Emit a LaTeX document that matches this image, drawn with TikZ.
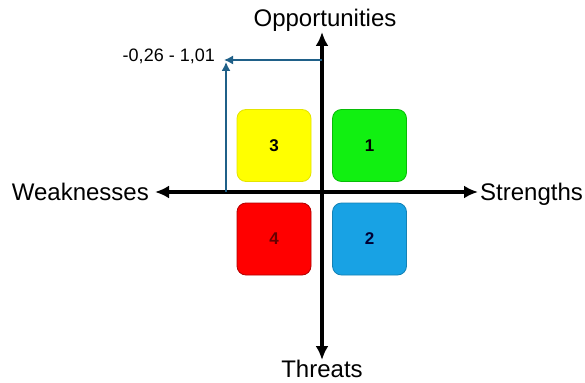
\documentclass[tikz,border=0pt]{standalone}
\usepackage{fontspec}
\setmainfont{Liberation Sans}
\usetikzlibrary{arrows.meta}
\definecolor{ylw}{HTML}{FFFF00}
\definecolor{grn}{HTML}{11F011}
\definecolor{rd}{HTML}{FF0000}
\definecolor{bl}{HTML}{18A2E4}
\definecolor{conn}{HTML}{1F6088}
\tikzset{
  axis/.style={line width=3.6pt,-{Latex[length=14pt,width=13pt]}},
  guide/.style={line width=1.5pt,color=conn,-{Latex[length=9pt,width=9pt]}},
  quad/.style={rounded corners=9pt,minimum width=74pt,minimum height=72pt,inner sep=0pt,line width=0.8pt,font=\fontsize{17}{20}\selectfont\bfseries},
  lbl/.style={font=\fontsize{24}{28}\selectfont,inner sep=0pt},
}
\begin{document}
\begin{tikzpicture}[x=1pt,y=-1pt]
\useasboundingbox (0,0) rectangle (585,382);
\fill[white] (0,0) rectangle (585,382);
% quadrant boxes
\node[quad,fill=ylw,draw=ylw!85!black!70!yellow] (q3) at (274,145.5) {3};
\node[quad,fill=grn,draw=green!60!black!60!grn] (q1) at (369.5,145.5) {1};
\node[quad,fill=rd,draw=red!70!black,text=red!40!black] (q4) at (274,239) {4};
\node[quad,fill=bl,draw=bl!80!black,text=black!80!blue] (q2) at (369.5,239) {2};
% axes
\coordinate (c) at (322,192);
\coordinate (top) at (322,32);
\coordinate (bot) at (322,360);
\coordinate (lft) at (155,192);
\coordinate (rgt) at (478,192);
\draw[axis] (c) -- (top);
\draw[axis] (c) -- (bot);
\draw[axis] (c) -- (lft);
\draw[axis] (c) -- (rgt);
% labels
\node[lbl,anchor=base] (opp) at (325,27) {Opportunities};
\node[lbl,anchor=base] (thr) at (322,377) {Threats};
\node[lbl,anchor=base east] (wk) at (149,200) {Weaknesses};
\node[lbl,anchor=base west] (st) at (480,200) {Strengths};
% guide lines
\coordinate (corner) at (224,60);
\coordinate (hstart) at (322,60);
\coordinate (vstart) at (226,192);
\coordinate (vend) at (226,62);
\draw[guide] (hstart) -- (corner);
\draw[guide] (vstart) -- (vend);
\node[font=\fontsize{18}{20}\selectfont,anchor=base east,inner sep=0pt] (val) at (215,62) {-0,26 - 1,01};
\end{tikzpicture}
\end{document}
